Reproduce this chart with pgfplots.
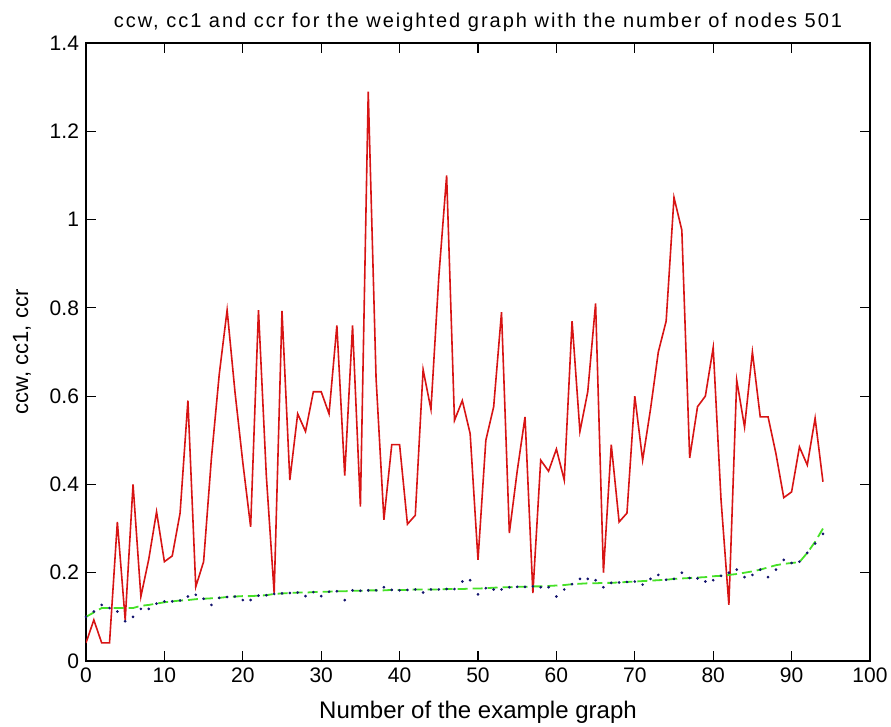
\documentclass[border=0pt]{standalone}
\usepackage{fontspec}
\setmainfont{Liberation Sans}
\usepackage{pgfplots}
\pgfplotsset{compat=1.18}
\definecolor{mred}{RGB}{215,20,20}
\definecolor{mgreen}{RGB}{70,225,40}
\definecolor{mblue}{RGB}{20,20,110}
\begin{document}
\begin{tikzpicture}
\begin{axis}[
  name=ax,
  scale only axis,
  width=392pt, height=309pt,
  xmin=0, xmax=100, ymin=0, ymax=1.4,
  xtick={0,10,...,100},
  ytick={0,0.2,0.4,0.6,0.8,1,1.2,1.4},
  yticklabels={0,0.2,0.4,0.6,0.8,1,1.2,1.4},
  /pgf/number format/assume math mode=true,
  tick label style={font=\fontsize{10.5}{12}\selectfont},
  every axis title shift=0pt,
  title style={font=\fontsize{10}{12}\selectfont\addfontfeature{LetterSpace=10},
    at={(axis description cs:0.5,1.034)}, anchor=center},
  title={ccw, cc1 and ccr for the weighted graph with the number of nodes 501},
  xlabel={Number of the example graph},
  ylabel={ccw, cc1, ccr},
  xlabel style={font=\fontsize{12}{14}\selectfont,
    at={(axis description cs:0.5,-0.0825)}, anchor=center},
  ylabel style={font=\fontsize{11}{13}\selectfont,
    at={(axis description cs:-0.0816,0.5)}, anchor=center},
  tick align=inside,
  major tick length=5pt,
  axis line style={line width=0.8pt},
  every tick/.style={black, line width=0.6pt},
]
% ccr (red)
\addplot[mred, line width=0.8pt, mark=none] coordinates {
(0,0.041)(1,0.093)(2,0.041)(3,0.041)(4,0.315)(5,0.093)(6,0.40)(7,0.146)(8,0.23)(9,0.338)
(10,0.225)(11,0.238)(12,0.335)(13,0.59)(14,0.168)(15,0.225)(16,0.46)(17,0.65)(18,0.795)(19,0.61)
(20,0.45)(21,0.304)(22,0.795)(23,0.42)(24,0.154)(25,0.793)(26,0.41)(27,0.56)(28,0.52)(29,0.61)
(30,0.61)(31,0.56)(32,0.76)(33,0.42)(34,0.76)(35,0.35)(36,1.29)(37,0.64)(38,0.32)(39,0.49)
(40,0.49)(41,0.31)(42,0.33)(43,0.66)(44,0.57)(45,0.87)(46,1.10)(47,0.545)(48,0.59)(49,0.515)
(50,0.229)(51,0.50)(52,0.576)(53,0.79)(54,0.29)(55,0.43)(56,0.553)(57,0.154)(58,0.455)(59,0.43)
(60,0.48)(61,0.41)(62,0.77)(63,0.52)(64,0.61)(65,0.81)(66,0.20)(67,0.49)(68,0.315)(69,0.335)
(70,0.60)(71,0.455)(72,0.57)(73,0.70)(74,0.77)(75,1.05)(76,0.976)(77,0.46)(78,0.576)(79,0.60)
(80,0.71)(81,0.365)(82,0.127)(83,0.636)(84,0.53)(85,0.70)(86,0.553)(87,0.553)(88,0.47)(89,0.37)
(90,0.383)(91,0.485)(92,0.444)(93,0.55)(94,0.406)
};
% cc1 (green dashed)
\addplot[mgreen, line width=0.9pt, dash pattern=on 5pt off 2.5pt, mark=none] coordinates {
(0,0.10)(1,0.11)(2,0.12)(3,0.12)(4,0.12)(5,0.12)(6,0.12)(7,0.125)(8,0.127)(9,0.13)
(10,0.133)(11,0.135)(12,0.137)(13,0.138)(14,0.14)(15,0.141)(16,0.142)(17,0.143)(18,0.145)(19,0.146)
(20,0.147)(21,0.147)(22,0.148)(23,0.149)(24,0.152)(25,0.153)(26,0.154)(27,0.155)(28,0.155)(29,0.156)
(30,0.157)(31,0.157)(32,0.158)(33,0.158)(34,0.159)(35,0.159)(36,0.16)(37,0.16)(38,0.16)(39,0.161)
(40,0.161)(41,0.161)(42,0.162)(43,0.162)(44,0.162)(45,0.162)(46,0.163)(47,0.163)(48,0.163)(49,0.164)
(50,0.164)(51,0.165)(52,0.166)(53,0.167)(54,0.167)(55,0.168)(56,0.168)(57,0.169)(58,0.169)(59,0.17)
(60,0.171)(61,0.172)(62,0.174)(63,0.175)(64,0.176)(65,0.176)(66,0.177)(67,0.177)(68,0.178)(69,0.179)
(70,0.18)(71,0.181)(72,0.182)(73,0.183)(74,0.184)(75,0.186)(76,0.187)(77,0.188)(78,0.189)(79,0.19)
(80,0.192)(81,0.193)(82,0.195)(83,0.197)(84,0.20)(85,0.203)(86,0.207)(87,0.212)(88,0.217)(89,0.22)
(90,0.222)(91,0.224)(92,0.245)(93,0.27)(94,0.30)
};
% ccw (blue dots)
\addplot[only marks, mark=*, mark size=0.45pt, mblue] coordinates {
(0,0.10)(1,0.112)(2,0.127)(3,0.12)(4,0.112)(5,0.09)(6,0.10)(7,0.118)(8,0.118)(9,0.13)
(10,0.135)(11,0.135)(12,0.137)(13,0.146)(14,0.15)(15,0.141)(16,0.127)(17,0.143)(18,0.145)(19,0.146)
(20,0.138)(21,0.138)(22,0.148)(23,0.149)(24,0.152)(25,0.153)(26,0.154)(27,0.155)(28,0.147)(29,0.156)
(30,0.147)(31,0.157)(32,0.158)(33,0.138)(34,0.16)(35,0.159)(36,0.16)(37,0.16)(38,0.167)(39,0.161)
(40,0.16)(41,0.161)(42,0.162)(43,0.155)(44,0.162)(45,0.162)(46,0.163)(47,0.163)(48,0.18)(49,0.183)
(50,0.151)(51,0.165)(52,0.162)(53,0.162)(54,0.167)(55,0.168)(56,0.168)(57,0.169)(58,0.167)(59,0.167)
(60,0.146)(61,0.162)(62,0.174)(63,0.186)(64,0.186)(65,0.183)(66,0.167)(67,0.177)(68,0.178)(69,0.179)
(70,0.18)(71,0.173)(72,0.186)(73,0.195)(74,0.184)(75,0.186)(76,0.20)(77,0.188)(78,0.187)(79,0.18)
(80,0.183)(81,0.193)(82,0.20)(83,0.207)(84,0.19)(85,0.195)(86,0.207)(87,0.19)(88,0.207)(89,0.229)
(90,0.222)(91,0.225)(92,0.245)(93,0.266)(94,0.288)
};
\end{axis}
\pgfresetboundingbox
\path ([xshift=-43pt,yshift=-33pt]ax.south west) rectangle ([xshift=10.5pt,yshift=21.5pt]ax.north east);
\end{tikzpicture}
\end{document}
